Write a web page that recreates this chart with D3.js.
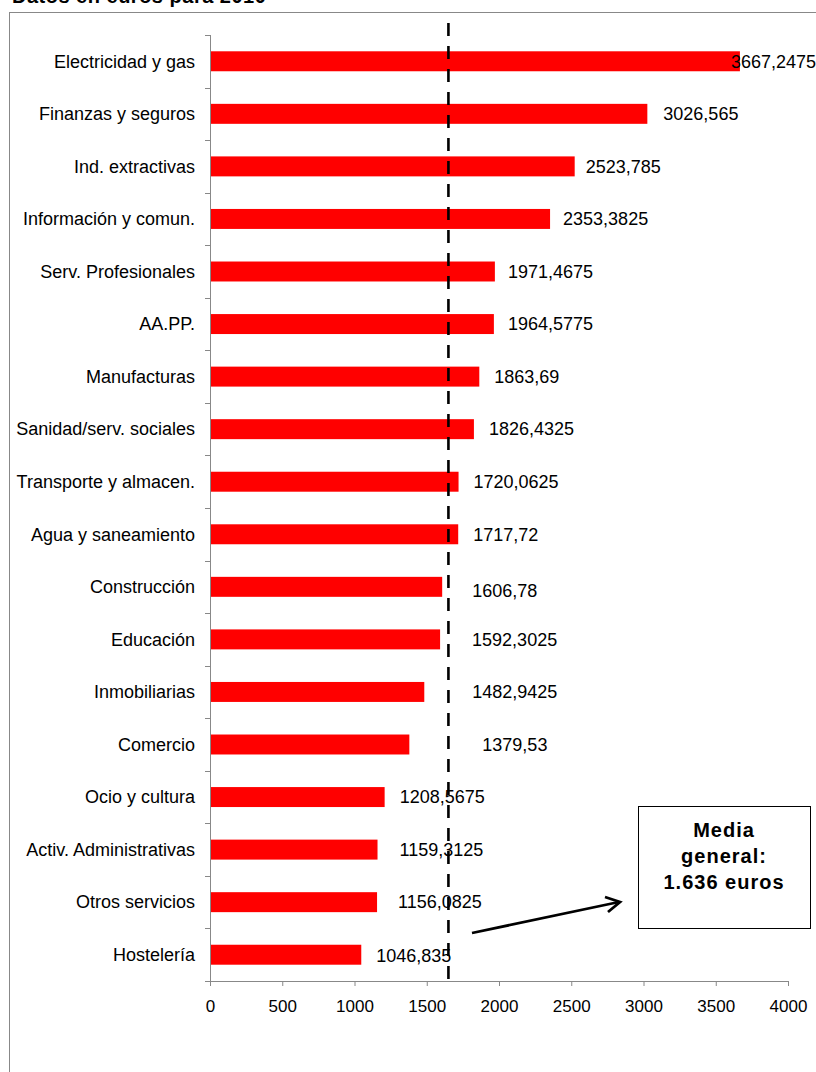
<!DOCTYPE html>
<html>
<head>
<meta charset="utf-8">
<script src="https://cdn.jsdelivr.net/npm/d3@7"></script>
<style>
  body { margin: 0; background: #fff; }
  svg { display: block; font-family: "Liberation Sans", Arial, sans-serif; }
</style>
</head>
<body>
<div id="chart"></div>
<script>
(function () {
  // categorias y valores (euros, 2010)
  const sectores = [
    "Electricidad y gas", "Finanzas y seguros", "Ind. extractivas", "Información y comun.",
    "Serv. Profesionales", "AA.PP.", "Manufacturas", "Sanidad/serv. sociales",
    "Transporte y almacen.", "Agua y saneamiento", "Construcción", "Educación",
    "Inmobiliarias", "Comercio", "Ocio y cultura", "Activ. Administrativas",
    "Otros servicios", "Hostelería"
  ];
  const valores = [
    3667.2475, 3026.565, 2523.785, 2353.3825, 1971.4675, 1964.5775, 1863.69, 1826.4325,
    1720.0625, 1717.72, 1606.78, 1592.3025, 1482.9425, 1379.53, 1208.5675, 1159.3125,
    1156.0825, 1046.835
  ];
  const etiquetas = [
    "3667,2475", "3026,565", "2523,785", "2353,3825", "1971,4675", "1964,5775", "1863,69",
    "1826,4325", "1720,0625", "1717,72", "1606,78", "1592,3025", "1482,9425", "1379,53",
    "1208,5675", "1159,3125", "1156,0825", "1046,835"
  ];
  const ticksX = [0, 500, 1000, 1500, 2000, 2500, 3000, 3500, 4000];
  const mediaLinea = 1650;   // where the dashed line sits
  const mediaTexto = ["Media", "general:", "1.636 euros"];

  // label placement tweaks (px), labels were hand placed in the original
  const labelDx = [-9, 16, 11, 13, 13, 14, 15, 15, 15, 15, 30, 32, 48, 73, 15, 22, 21, 15];
  const labelDy = [0, 0, 0, 0, 0, 0, 0, 0, 0, 0, 4, 0, 0, 0, 0, 0, 0, 1];

  const W = 816, H = 1072;
  const plot = { left: 210, right: 788, top: 35, bottom: 981 };

  const svg = d3.select("#chart").append("svg")
    .attr("width", W).attr("height", H);

  // title, cut off at the top
  svg.append("text")
    .attr("x", 12).attr("y", 3)
    .style("font-size", "20px").style("font-weight", "bold")
    .style("letter-spacing", "0.5px")
    .text("Datos en euros para 2010");

  // outer frame
  svg.append("rect")
    .attr("x", 9.5).attr("y", 12.5)
    .attr("width", W).attr("height", H)
    .attr("fill", "none").attr("stroke", "#888");

  const x = d3.scaleLinear().domain([0, 4000]).range([plot.left, plot.right]);
  const y = d3.scaleBand().domain(sectores)
    .range([plot.top, plot.bottom])
    .paddingInner(0.62).paddingOuter(0.31);

  // bars
  svg.selectAll("rect.bar")
    .data(valores)
    .enter()
    .append("rect")
    .attr("class", "bar")
    .attr("x", x(0))
    .attr("y", (d, i) => y(sectores[i]))
    .attr("width", d => x(d) - x(0))
    .attr("height", y.bandwidth())
    .attr("fill", "#ff0000");

  // x axis
  const xAxis = svg.append("g")
    .attr("transform", `translate(0,${plot.bottom})`)
    .call(d3.axisBottom(x).tickValues(ticksX).tickSize(5).tickSizeOuter(0).tickPadding(14)
      .tickFormat(d3.format("d")));
  xAxis.select(".domain").attr("stroke", "#888").attr("d", `M${plot.left - 5},0.5H${plot.right}`);
  xAxis.selectAll(".tick line").attr("stroke", "#888");
  xAxis.selectAll(".tick text").style("font-size", "17px").attr("fill", "#000");

  // y axis: line, ticks between categories
  const step = y.step();
  const bounds = d3.range(sectores.length + 1).map(i => plot.top + i * step);
  svg.append("line")
    .attr("x1", plot.left + 0.5).attr("x2", plot.left + 0.5)
    .attr("y1", plot.top).attr("y2", plot.bottom + 5)
    .attr("stroke", "#888");
  svg.selectAll("line.ytick")
    .data(bounds)
    .enter()
    .append("line")
    .attr("class", "ytick")
    .attr("x1", plot.left - 5).attr("x2", plot.left)
    .attr("y1", d => Math.round(d) + 0.5).attr("y2", d => Math.round(d) + 0.5)
    .attr("stroke", "#888");

  // category labels
  svg.selectAll("text.cat")
    .data(sectores)
    .enter()
    .append("text")
    .attr("class", "cat")
    .attr("x", plot.left - 15)
    .attr("y", d => y(d) + y.bandwidth() / 2)
    .attr("dy", "0.35em")
    .attr("text-anchor", "end")
    .style("font-size", "18px")
    .text(d => d);

  // dashed mean line
  svg.append("line")
    .attr("x1", x(mediaLinea)).attr("x2", x(mediaLinea))
    .attr("y1", 23).attr("y2", 988)
    .attr("stroke", "#000")
    .attr("stroke-width", 2.6)
    .attr("stroke-dasharray", "13,10");

  // value labels
  svg.selectAll("text.val")
    .data(valores)
    .enter()
    .append("text")
    .attr("class", "val")
    .attr("x", (d, i) => x(d) + labelDx[i])
    .attr("y", (d, i) => y(sectores[i]) + y.bandwidth() / 2 + labelDy[i])
    .attr("dy", "0.35em")
    .style("font-size", "18px")
    .text((d, i) => etiquetas[i]);

  // annotation box
  svg.append("rect")
    .attr("x", 638.5).attr("y", 806.5)
    .attr("width", 172).attr("height", 122)
    .attr("fill", "#fff").attr("stroke", "#000");
  svg.append("text")
    .attr("x", 724).attr("y", 837)
    .attr("text-anchor", "middle")
    .style("font-size", "20px").style("font-weight", "bold")
    .style("letter-spacing", "1px")
    .selectAll("tspan")
    .data(mediaTexto)
    .enter()
    .append("tspan")
    .attr("x", 724)
    .attr("dy", (d, i) => i === 0 ? 0 : 26)
    .text(d => d);

  // arrow
  svg.append("line")
    .attr("x1", 472).attr("y1", 933).attr("x2", 619).attr("y2", 902)
    .attr("stroke", "#000").attr("stroke-width", 2.8);
  svg.append("path")
    .attr("d", "M605,897 L620,902 L608,912")
    .attr("fill", "none").attr("stroke", "#000").attr("stroke-width", 2.8)
    .attr("stroke-linejoin", "miter");
})();
</script>
</body>
</html>
